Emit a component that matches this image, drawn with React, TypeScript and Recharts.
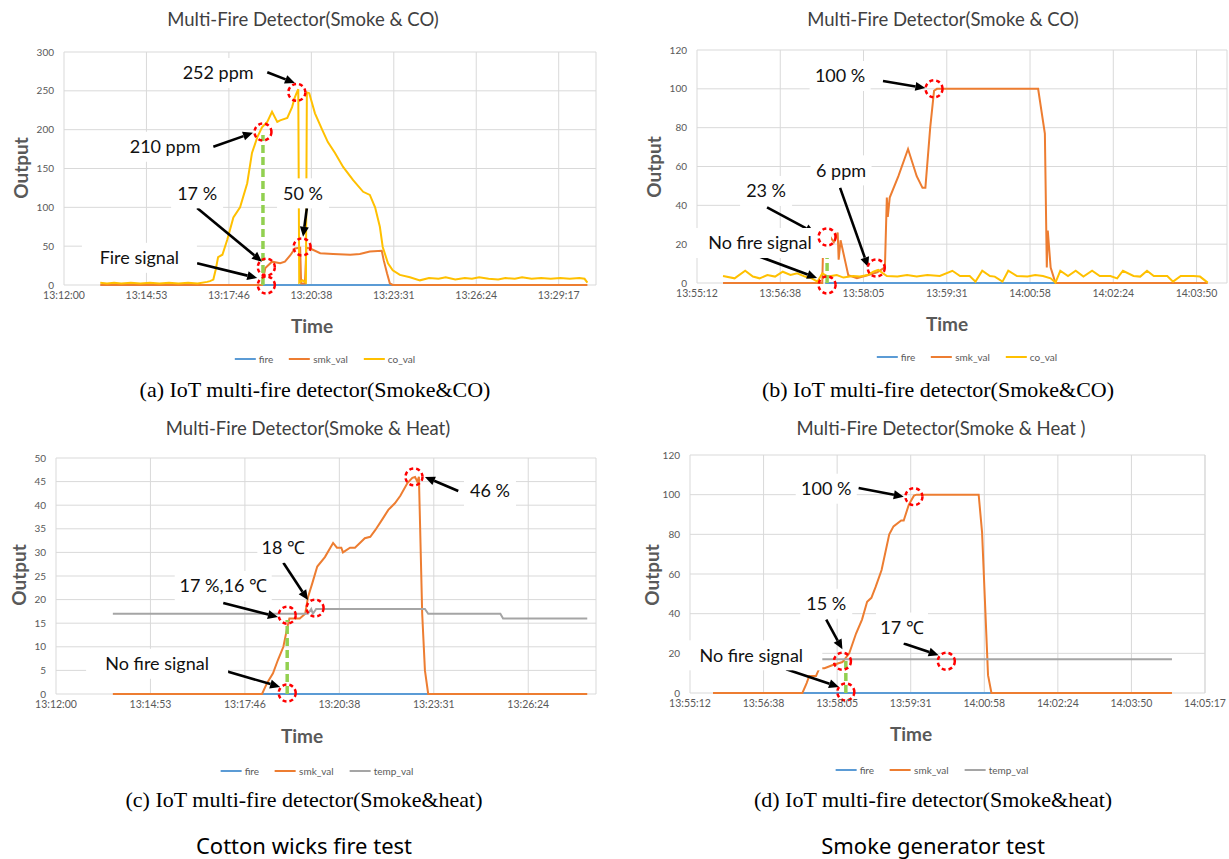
import React from "react";
import { CartesianGrid, Line, LineChart, ReferenceDot, ReferenceLine, XAxis, YAxis } from "recharts";

type Pt = [number, number];

// times are seconds after the first x tick label
const aTicks = ["13:12:00", "13:14:53", "13:17:46", "13:20:38", "13:23:31", "13:26:24", "13:29:17"];
const aY = [0, 50, 100, 150, 200, 250, 300];
const aFire: Pt[] = [[417, 0], [739, 0]];
const aSmk: Pt[] = [
  [76, 0], [415, 0], [422, 22], [436, 30], [453, 28], [463, 30], [474, 38], [484, 47], [495, 48], [497, 2],
  [505, 2], [508, 48], [516, 47], [537, 41], [564, 40], [600, 39], [620, 40], [641, 43], [666, 44], [670, 32],
  [677, 15], [683, 2], [689, 0], [1097, 0],
];
const aCo: Pt[] = [
  [76, 3], [90, 2], [105, 3], [120, 2], [140, 3], [160, 2], [180, 3], [200, 2], [220, 3], [240, 2], [260, 3],
  [280, 2], [300, 4], [306, 5], [313, 7], [318, 20], [323, 36], [332, 39], [342, 58], [355, 87], [369, 100],
  [384, 131], [394, 170], [405, 190], [415, 203], [426, 210], [436, 223], [447, 210], [453, 212], [468, 215],
  [478, 229], [484, 242], [488, 248], [491, 252], [493, 3], [500, 6], [507, 3], [509, 248], [514, 247],
  [526, 221], [541, 200], [553, 184], [568, 170], [585, 152], [606, 135], [627, 120], [641, 116], [652, 100],
  [662, 75], [668, 49], [679, 28], [689, 19], [704, 13], [725, 10], [746, 6], [765, 9], [785, 8], [800, 10],
  [820, 7], [840, 9], [855, 8], [870, 10], [890, 8], [910, 7], [925, 9], [945, 8], [960, 10], [980, 8],
  [1000, 9], [1020, 8], [1040, 9], [1060, 8], [1080, 9], [1091, 8], [1097, 3],
];
const aCircles: Pt[] = [[417, 197], [488, 248], [499, 49], [424, 23], [424, 0]];
const aNotes = [
  { text: "252 ppm", at: [323, 273] as Pt },
  { text: "210 ppm", at: [212, 178] as Pt },
  { text: "17 %", at: [279, 118] as Pt },
  { text: "Fire signal", at: [158, 35] as Pt },
  { text: "50 %", at: [501, 118] as Pt },
];
const aArrows: [Pt, Pt][] = [
  [[426, 274], [484, 260]],
  [[313, 178], [396, 196]],
  [[279, 99], [415, 30]],
  [[279, 28], [405, 9]],
  [[509, 99], [501, 62]],
];

const bTicks = ["13:55:12", "13:56:38", "13:58:05", "13:59:31", "14:00:58", "14:02:24", "14:03:50"];
const bY = [0, 20, 40, 60, 80, 100, 120];
const bFire: Pt[] = [[133, 0], [372, 0]];
const bSmk: Pt[] = [
  [27, 0], [130, 0], [131, 22], [133, 23], [138, 24], [142, 21], [146, 26], [147, 12], [149, 22], [157, 4],
  [166, 2.5], [177, 4], [187, 5.5], [195, 8], [197, 44], [198, 34], [200, 44], [209, 55], [219, 69], [228, 55],
  [234, 49], [237, 49], [242, 80], [246, 99], [249, 100], [354, 100], [361, 77], [363, 8], [364, 27], [367, 8],
  [372, 0], [530, 0],
];
const bCo: Pt[] = [
  [27, 3.6], [39, 2.4], [50, 6.3], [58, 3.3], [65, 2.4], [73, 4.1], [81, 3.3], [89, 5.8], [97, 4.1], [104, 5],
  [112, 3.3], [119, 2.4], [125, 0.7], [130, 5], [136, 3.3], [145, 4.1], [152, 2.8], [162, 3.6], [169, 3.3],
  [177, 4.1], [183, 5.8], [188, 6.7], [197, 3.6], [208, 3.3], [218, 4.1], [228, 3.3], [239, 4.1], [252, 3.6],
  [265, 6.3], [273, 3.6], [283, 3.6], [289, 0.7], [296, 6.3], [304, 3.6], [309, 3.3], [317, 0.7], [323, 6.3],
  [332, 3.6], [343, 3.3], [351, 4.1], [359, 3.6], [367, 2.4], [372, 0.2], [377, 6.3], [385, 3.6], [393, 6.3],
  [401, 3.3], [410, 6.3], [418, 3.6], [429, 3.6], [436, 2.4], [442, 6.3], [453, 3.6], [460, 3.3], [467, 6.3],
  [474, 3.6], [488, 3.6], [494, 0.7], [502, 3.6], [515, 3.6], [522, 3.3], [530, 0.2],
];
const bCircles: Pt[] = [[135, 23.7], [135, -1], [186, 7.7], [246, 100]];
const bNotes = [
  { text: "100 %", at: [148.5, 106.6] as Pt },
  { text: "6 ppm", at: [149.5, 58] as Pt },
  { text: "23 %", at: [71.7, 47.4] as Pt },
  { text: "No fire signal", at: [65.4, 20.6] as Pt },
];
const bArrows: [Pt, Pt][] = [
  [[193, 104], [237, 100.4]],
  [[148.5, 49], [177.6, 8.2]],
  [[72.7, 39], [122.5, 25.7]],
  [[63.3, 13.9], [124.6, 2.6]],
];

const cTicks = ["13:12:00", "13:14:53", "13:17:46", "13:20:38", "13:23:31", "13:26:24"];
const cY = [0, 5, 10, 15, 20, 25, 30, 35, 40, 45, 50];
const cFire: Pt[] = [[377, 0], [681, 0]];
const cSmk: Pt[] = [
  [104, 0], [377, 0], [386, 2.3], [397, 4.4], [406, 7.2], [416, 10], [423, 14], [427, 16], [446, 16],
  [456, 17], [461, 20.5], [469, 23.5], [478, 27], [492, 29], [507, 32], [514, 31], [522, 31], [525, 30],
  [538, 31], [547, 31], [556, 32], [565, 33], [575, 33.3], [584, 34.7], [597, 37], [608, 39], [620, 40.4],
  [630, 42], [643, 44.7], [652, 45.8], [657, 46], [661, 45], [664, 46], [670, 17], [675, 5], [681, 0], [972, 0],
];
const cTemp: Pt[] = [
  [104, 17], [461, 17], [467, 18], [470, 17], [476, 18], [675, 18], [681, 17], [813, 17], [818, 16], [972, 16],
];
const cCircles: Pt[] = [[423, 16.7], [474, 18.2], [423, 0.2], [655, 46]];
const cNotes = [
  { text: "18 ℃", at: [416, 31] as Pt },
  { text: "17 %,16 ℃", at: [306, 22.9] as Pt },
  { text: "No fire signal", at: [185, 6.4] as Pt },
  { text: "46 %", at: [794, 43] as Pt },
];
const cArrows: [Pt, Pt][] = [
  [[416, 27.8], [461, 19.9]],
  [[306, 19.3], [406, 16.3]],
  [[304, 5.1], [410, 1.5]],
  [[736, 43], [675, 46]],
];

const dTicks = ["13:55:12", "13:56:38", "13:58:05", "13:59:31", "14:00:58", "14:02:24", "14:03:50", "14:05:17"];
const dY = [0, 20, 40, 60, 80, 100, 120];
const dFire: Pt[] = [[132, 0], [354, 0]];
const dSmk: Pt[] = [
  [27, 0], [132, 0], [137, 5], [140, 8.6], [148, 8.6], [152, 12.5], [158, 12.5], [167, 14], [179, 15.6],
  [187, 20], [195, 30], [202, 37], [208, 46], [213, 48], [218, 53.5], [225, 62], [234, 80], [239, 84],
  [248, 87], [251, 87], [257, 95], [263, 99.5], [266, 100], [339, 100], [343, 81], [350, 9], [354, 0], [566, 0],
];
const dTemp: Pt[] = [[142, 17], [566, 17]];
const dCircles: Pt[] = [[179, 16], [183, 0.5], [263, 99], [301, 16]];
const dNotes = [
  { text: "100 %", at: [160, 103] as Pt },
  { text: "15 %", at: [160, 45] as Pt },
  { text: "17 ℃", at: [249, 33] as Pt },
  { text: "No fire signal", at: [72, 19] as Pt },
];
const dArrows: [Pt, Pt][] = [
  [[198, 103.4], [251, 99]],
  [[160, 37], [179, 22]],
  [[251, 25], [292, 19]],
  [[113, 12], [175, 3]],
];

const FONT = "Lato, 'Open Sans', sans-serif";
const FIRE = "#5b9bd5";
const SMK = "#ed7d31";
const CO = "#ffc000";
const TEMP = "#a5a5a5";
const GRAY = "#595959";

type Series = { name: string; color: string; pts: Pt[] };
type Note = { text: string; at: Pt };

const rows = (pts: Pt[]) => pts.map(([t, v]) => ({ t, v }));

function RedCircle(props: any) {
  return (
    <circle cx={props.cx} cy={props.cy} r={8.5} fill="none" stroke="#ff0000" strokeWidth={2.5} strokeDasharray="4 3" />
  );
}

function Arrow(props: any) {
  const { x1, y1, x2, y2 } = props;
  const ang = Math.atan2(y2 - y1, x2 - x1);
  const bx = x2 - 10 * Math.cos(ang);
  const by = y2 - 10 * Math.sin(ang);
  const px = -Math.sin(ang) * 4.5;
  const py = Math.cos(ang) * 4.5;
  return (
    <g>
      <line x1={x1} y1={y1} x2={bx} y2={by} stroke="#000" strokeWidth={2.6} />
      <polygon points={`${x2},${y2} ${bx + px},${by + py} ${bx - px},${by - py}`} fill="#000" />
    </g>
  );
}

function noteShape(text: string) {
  return (props: any) => {
    const w = text.length * 9 + 16;
    return (
      <g>
        <rect x={props.cx - w / 2} y={props.cy - 15} width={w} height={30} fill="#fff" />
        <text x={props.cx} y={props.cy} dy="0.35em" textAnchor="middle" fontSize={18} fontFamily={FONT} fill="#111">
          {text}
        </text>
      </g>
    );
  };
}

type PanelProps = {
  left: number;
  top: number;
  width: number;
  height: number;
  margin: { top: number; right: number; bottom: number; left: number };
  xMax: number;
  step: number;
  ticks: string[];
  yTicks: number[];
  series: Series[];
  circles: Pt[];
  notes: Note[];
  arrows: [Pt, Pt][];
  green: Pt;
};

function Panel(p: PanelProps) {
  return (
    <div style={{ position: "absolute", left: p.left, top: p.top }}>
      <LineChart width={p.width} height={p.height} margin={p.margin}>
        <CartesianGrid stroke="#d9d9d9" strokeWidth={1} />
        <XAxis
          type="number"
          dataKey="t"
          domain={[0, p.xMax]}
          ticks={p.ticks.map((_, i) => i * p.step)}
          tickFormatter={(v: number) => p.ticks[Math.round(v / p.step)] ?? ""}
          interval={0}
          axisLine={false}
          tickLine={false}
          tickSize={0}
          tickMargin={7}
          height={25}
          tick={{ fill: GRAY, fontSize: 10.5, fontFamily: FONT }}
        />
        <YAxis
          type="number"
          domain={[0, p.yTicks[p.yTicks.length - 1]]}
          ticks={p.yTicks}
          interval={0}
          axisLine={false}
          tickLine={false}
          tickSize={0}
          tickMargin={10}
          width={40}
          tick={{ fill: GRAY, fontSize: 10, fontFamily: FONT }}
        />
        {p.series.map((s) => (
          <Line
            key={s.name}
            data={rows(s.pts)}
            dataKey="v"
            name={s.name}
            type="linear"
            stroke={s.color}
            strokeWidth={2}
            dot={false}
            activeDot={false}
            isAnimationActive={false}
          />
        ))}
        <ReferenceLine
          segment={[{ x: p.green[0], y: 0 }, { x: p.green[0], y: p.green[1] }]}
          stroke="#92d050"
          strokeWidth={3.5}
          strokeDasharray="8 4"
          ifOverflow="visible"
        />
        {p.arrows.map((a, i) => (
          <ReferenceLine
            key={"a" + i}
            segment={[{ x: a[0][0], y: a[0][1] }, { x: a[1][0], y: a[1][1] }]}
            shape={Arrow}
            ifOverflow="visible"
          />
        ))}
        {p.notes.map((n) => (
          <ReferenceDot key={n.text} x={n.at[0]} y={n.at[1]} r={1} shape={noteShape(n.text)} ifOverflow="visible" />
        ))}
        {p.circles.map((c, i) => (
          <ReferenceDot key={"c" + i} x={c[0]} y={c[1]} r={8} shape={RedCircle} ifOverflow="visible" />
        ))}
      </LineChart>
    </div>
  );
}

function Txt({ x, y, style, children }: { x: number; y: number; style?: React.CSSProperties; children: React.ReactNode }) {
  return (
    <div
      style={{
        position: "absolute",
        left: x,
        top: y,
        transform: "translate(-50%, -50%)",
        whiteSpace: "nowrap",
        lineHeight: 1,
        ...style,
      }}
    >
      {children}
    </div>
  );
}

function LegendRow({ x, y, items }: { x: number; y: number; items: Series[] }) {
  return (
    <Txt x={x} y={y} style={{ display: "flex", alignItems: "center", fontFamily: FONT, fontSize: 10, color: GRAY }}>
      {items.map((s) => (
        <span key={s.name} style={{ display: "flex", alignItems: "center", margin: "0 8px" }}>
          <span style={{ display: "inline-block", width: 21, height: 2.5, background: s.color, marginRight: 3 }} />
          {s.name}
        </span>
      ))}
    </Txt>
  );
}

const titleStyle: React.CSSProperties = { fontFamily: FONT, fontSize: 18.5, color: "#404040" };
const axisStyle: React.CSSProperties = { fontFamily: FONT, fontSize: 19, fontWeight: 700, color: GRAY };
const capStyle: React.CSSProperties = { fontFamily: "'Liberation Serif', 'Times New Roman', serif", fontSize: 22, color: "#000" };
const testStyle: React.CSSProperties = { fontFamily: "'Noto Sans', sans-serif", fontSize: 22, color: "#000" };

export default function App() {
  const aSeries: Series[] = [
    { name: "fire", color: FIRE, pts: aFire },
    { name: "smk_val", color: SMK, pts: aSmk },
    { name: "co_val", color: CO, pts: aCo },
  ];
  const bSeries: Series[] = [
    { name: "fire", color: FIRE, pts: bFire },
    { name: "smk_val", color: SMK, pts: bSmk },
    { name: "co_val", color: CO, pts: bCo },
  ];
  const cSeries: Series[] = [
    { name: "fire", color: FIRE, pts: cFire },
    { name: "smk_val", color: SMK, pts: cSmk },
    { name: "temp_val", color: TEMP, pts: cTemp },
  ];
  const dSeries: Series[] = [
    { name: "fire", color: FIRE, pts: dFire },
    { name: "smk_val", color: SMK, pts: dSmk },
    { name: "temp_val", color: TEMP, pts: dTemp },
  ];

  return (
    <div style={{ position: "absolute", left: 0, top: 0, width: 1229, height: 859, background: "#fff", overflow: "hidden" }}>
      <Panel
        left={0} top={0} width={610} height={310}
        margin={{ top: 52, right: 14, left: 24, bottom: 0 }}
        xMax={1115} step={172.8} ticks={aTicks} yTicks={aY}
        series={aSeries} circles={aCircles} notes={aNotes} arrows={aArrows} green={[417, 193]}
      />
      <Panel
        left={620} top={0} width={609} height={308}
        margin={{ top: 50, right: 2, left: 37, bottom: 0 }}
        xMax={550} step={86.4} ticks={bTicks} yTicks={bY}
        series={bSeries} circles={bCircles} notes={bNotes} arrows={bArrows} green={[135, 22]}
      />
      <Panel
        left={0} top={410} width={610} height={309}
        margin={{ top: 48, right: 14, left: 16, bottom: 0 }}
        xMax={988} step={172.8} ticks={cTicks} yTicks={cY}
        series={cSeries} circles={cCircles} notes={cNotes} arrows={cArrows} green={[423, 15.7]}
      />
      <Panel
        left={620} top={410} width={609} height={308}
        margin={{ top: 45, right: 24, left: 30, bottom: 0 }}
        xMax={604.8} step={86.4} ticks={dTicks} yTicks={dY}
        series={dSeries} circles={dCircles} notes={dNotes} arrows={dArrows} green={[183, 17.6]}
      />

      <Txt x={303} y={19} style={titleStyle}>Multi-Fire Detector(Smoke &amp; CO)</Txt>
      <Txt x={943} y={19} style={titleStyle}>Multi-Fire Detector(Smoke &amp; CO)</Txt>
      <Txt x={308} y={428} style={titleStyle}>Multi-Fire Detector(Smoke &amp; Heat)</Txt>
      <Txt x={941} y={428} style={titleStyle}>Multi-Fire Detector(Smoke &amp; Heat )</Txt>

      <Txt x={20} y={168} style={{ ...axisStyle, transform: "translate(-50%, -50%) rotate(-90deg)" }}>Output</Txt>
      <Txt x={653} y={167} style={{ ...axisStyle, transform: "translate(-50%, -50%) rotate(-90deg)" }}>Output</Txt>
      <Txt x={18} y={575} style={{ ...axisStyle, transform: "translate(-50%, -50%) rotate(-90deg)" }}>Output</Txt>
      <Txt x={651} y={575} style={{ ...axisStyle, transform: "translate(-50%, -50%) rotate(-90deg)" }}>Output</Txt>

      <Txt x={312} y={325} style={axisStyle}>Time</Txt>
      <Txt x={947} y={323} style={axisStyle}>Time</Txt>
      <Txt x={302} y={735} style={axisStyle}>Time</Txt>
      <Txt x={911} y={733} style={axisStyle}>Time</Txt>

      <LegendRow x={325} y={359} items={aSeries} />
      <LegendRow x={967} y={357} items={bSeries} />
      <LegendRow x={317} y={771} items={cSeries} />
      <LegendRow x={932} y={770} items={dSeries} />

      <Txt x={315} y={390} style={capStyle}>(a) IoT multi-fire detector(Smoke&amp;CO)</Txt>
      <Txt x={938} y={390} style={capStyle}>(b) IoT multi-fire detector(Smoke&amp;CO)</Txt>
      <Txt x={304} y={800} style={capStyle}>(c) IoT multi-fire detector(Smoke&amp;heat)</Txt>
      <Txt x={933} y={800} style={capStyle}>(d) IoT multi-fire detector(Smoke&amp;heat)</Txt>

      <Txt x={304} y={845} style={testStyle}>Cotton wicks fire test</Txt>
      <Txt x={933} y={845} style={testStyle}>Smoke generator test</Txt>
    </div>
  );
}
